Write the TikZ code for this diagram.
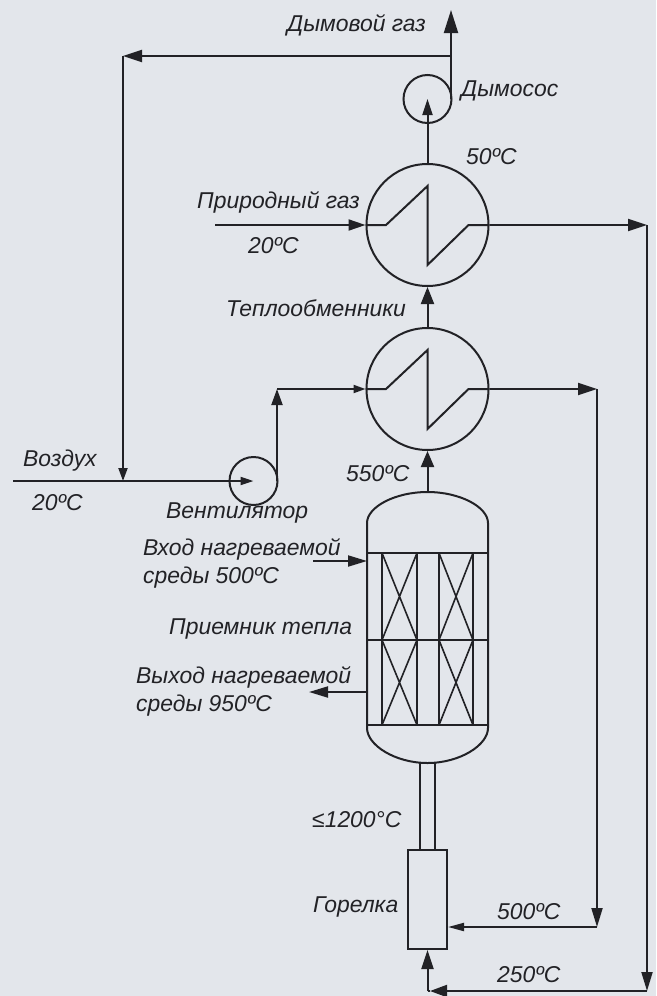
\documentclass[tikz,border=0pt]{standalone}
\usepackage{fontspec}
\setmainfont{Liberation Sans}
\usetikzlibrary{arrows.meta}
\definecolor{bgc}{HTML}{E3E6EB}
\definecolor{inkc}{HTML}{222226}
\tikzset{
  line/.style={draw=inkc,line width=2pt},
  flow/.style 2 args={line,-{Triangle[length=#1pt,width=#2pt]}},
  hx/.style={circle,draw=inkc,line width=2pt,minimum size=122pt,inner sep=0pt},
  fan/.style={circle,draw=inkc,line width=2pt,minimum size=48pt,inner sep=0pt},
  lab/.style={anchor=west,inner sep=0pt,text=inkc,font=\fontsize{22.9pt}{28pt}\selectfont\itshape,align=left},
}
\begin{document}
\begin{tikzpicture}[x=1pt,y=-1pt]
\path[use as bounding box,fill=bgc] (0,0) rectangle (656,996);
% equipment
\node[hx] (hxa) at (427.5,225) {};
\node[hx] (hxb) at (427.5,389) {};
\node[fan] (smoke) at (427.5,99) {};
\node[fan] (fanb) at (253.5,481) {};
\node[draw=inkc,line width=2pt,minimum width=39pt,minimum height=99pt,inner sep=0pt] (burner) at (427.5,899.5) {};
% zigzags
\foreach \h/\y in {hxa/225,hxb/389}{
  \draw[line] (\h.west) -- (386,\y) -- (427.5,\y-39) -- (427.5,\y+40) -- (468.5,\y) -- (\h.east);
}
% vessel
\draw[line,line join=round] (367,553) -- (367,523) .. controls (367,507) and (395,492) .. (427.5,492)
  .. controls (460,492) and (488,507) .. (488,523) -- (488,728)
  .. controls (488,745) and (460,763) .. (427.5,763) .. controls (395,763) and (367,745) .. (367,728) -- (367,553);
\draw[line] (367,553) -- (488,553) (367,640) -- (488,640) (367,725) -- (488,725);
\foreach \xa/\xb in {382/417,439/473}{
  \draw[line] (\xa,553) rectangle (\xb,725);
  \draw[line,line width=1.6pt] (\xa,553) -- (\xb,640) (\xb,553) -- (\xa,640) (\xa,640) -- (\xb,725) (\xb,640) -- (\xa,725);
}
\coordinate (vtop) at (427.5,492);
\coordinate (vin) at (367,561);
\coordinate (vout) at (367,692);
\draw[line] (420,763) -- (420,850) (435,763) -- (435,850);
% coordinates
\coordinate (smoketop) at (451,10);
\coordinate (smokeside) at (451,99);
\coordinate (tee) at (451,56);
\coordinate (ctop) at (123,56);
\coordinate (jn) at (123,481);
\coordinate (airin) at (13,481);
\coordinate (fanup) at (277,389);
\coordinate (fanside) at (277,481);
\coordinate (gasin) at (215,225);
\coordinate (ra) at (647,225);
\coordinate (rb) at (597,389);
\coordinate (bb) at (597,927);
\coordinate (ba) at (647,991);
\coordinate (bl) at (427.5,991);
\coordinate (bln) at (430,991);
\coordinate (vina) at (313,561);
\coordinate (vouta) at (309,692);
% connectors
\draw[flow={16}{10}] (hxa.north) -- (smoke.center);
\draw[flow={23}{14}] (smokeside) -- (smoketop);
\draw[flow={19}{12}] (tee) -- (ctop);
\draw[flow={13}{9}] (ctop) -- (jn);
\draw[flow={13}{8}] (airin) -- (fanb.center);
\draw[flow={16}{11}] (fanside) -- (fanup);
\draw[flow={12}{8}] (fanup) -- (hxb.west);
\draw[flow={17}{13}] (hxb.north) -- (hxa.south);
\draw[flow={16}{13}] (vtop) -- (hxb.south);
\draw[flow={17}{11}] (gasin) -- (hxa.west);
\draw[flow={19}{12}] (hxa.east) -- (ra);
\draw[flow={19}{11}] (ra) -- (ba);
\draw[flow={19}{12}] (hxb.east) -- (rb);
\draw[flow={19}{11}] (rb) -- (bb);
\draw[flow={16}{8}] (bb) -- (burner.east |- bb);
\draw[flow={17}{12}] (ba) -- (bln);
\draw[line] (bln) -- (bl);
\draw[flow={19}{12}] (bl) -- (burner.south);
\draw[flow={19}{11}] (vina) -- (vin);
\draw[flow={19}{11}] (vout) -- (vouta);
% labels
\node[lab] (t1) at (287,25) {Дымовой газ};
\node[lab] (t2) at (461,91) {Дымосос};
\node[lab] (t3) at (466,157) {50ºC};
\node[lab] (t4) at (197,202) {Природный газ};
\node[lab] (t5) at (248,246) {20ºC};
\node[lab] (t6) at (226,308) {Теплообменники};
\node[lab] (t7) at (346,474) {550ºC};
\node[lab] (t8) at (23,461) {Воздух};
\node[lab] (t9) at (32,503) {20ºC};
\node[lab] (t10) at (166,513) {Вентилятор};
\node[lab] (t11) at (143,563) {Вход нагреваемой\\среды 500ºC};
\node[lab] (t12) at (169,629) {Приемник тепла};
\node[lab] (t13) at (136,691) {Выход нагреваемой\\среды 950ºC};
\node[lab] (t14) at (312,820) {≤1200°C};
\node[lab] (t15) at (313,907) {Горелка};
\node[lab] (t16) at (497,912) {500ºC};
\node[lab] (t17) at (497,975) {250ºC};
\end{tikzpicture}
\end{document}
